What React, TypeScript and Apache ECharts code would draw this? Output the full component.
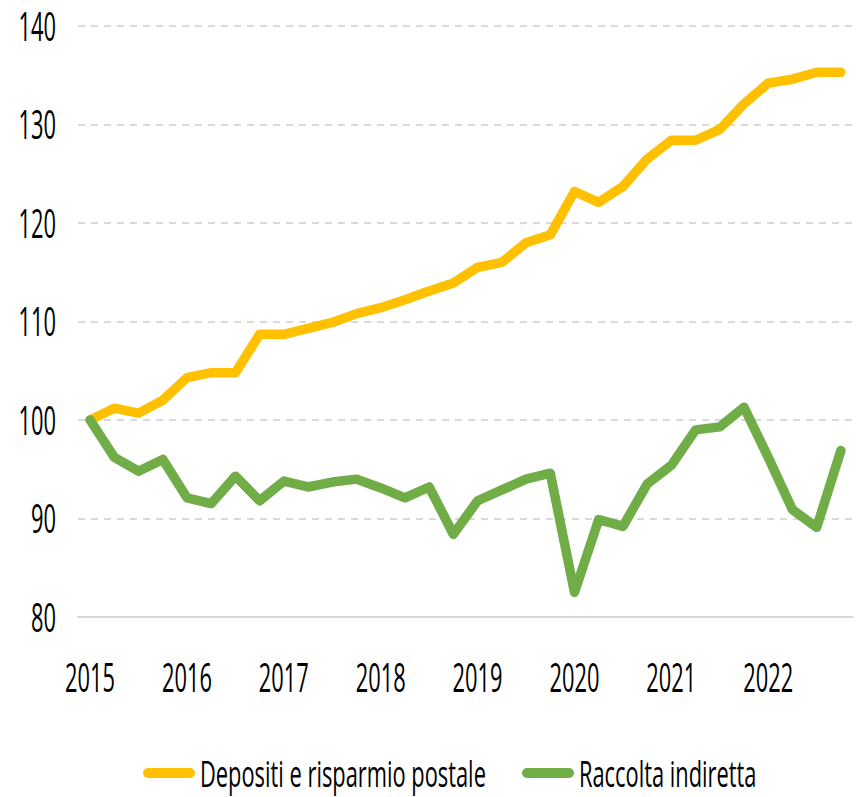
import React, { useEffect, useRef } from "react";
import * as echarts from "echarts";

const quarters: string[] = [
  "2015-Q1", "2015-Q2", "2015-Q3", "2015-Q4",
  "2016-Q1", "2016-Q2", "2016-Q3", "2016-Q4",
  "2017-Q1", "2017-Q2", "2017-Q3", "2017-Q4",
  "2018-Q1", "2018-Q2", "2018-Q3", "2018-Q4",
  "2019-Q1", "2019-Q2", "2019-Q3", "2019-Q4",
  "2020-Q1", "2020-Q2", "2020-Q3", "2020-Q4",
  "2021-Q1", "2021-Q2", "2021-Q3", "2021-Q4",
  "2022-Q1", "2022-Q2", "2022-Q3", "2022-Q4",
];

const depositi: number[] = [
  100.0, 101.2, 100.7, 102.0,
  104.3, 104.8, 104.8, 108.7,
  108.7, 109.3, 109.9, 110.8,
  111.4, 112.2, 113.1, 113.9,
  115.5, 116.0, 118.0, 118.8,
  123.2, 122.1, 123.7, 126.5,
  128.4, 128.4, 129.5, 132.1,
  134.2, 134.6, 135.3, 135.3,
];

const raccolta: number[] = [
  100.0, 96.2, 94.8, 96.0,
  92.1, 91.5, 94.3, 91.8,
  93.8, 93.2, 93.7, 94.0,
  93.1, 92.1, 93.2, 88.4,
  91.8, 92.9, 94.0, 94.6,
  82.5, 89.9, 89.2, 93.5,
  95.4, 99.0, 99.3, 101.3,
  96.2, 90.9, 89.1, 96.9,
];

const yTicks: number[] = [80, 90, 100, 110, 120, 130, 140];
const yearTicks: string[] = ["2015", "2016", "2017", "2018", "2019", "2020", "2021", "2022"];

const seriesNames: string[] = ["Depositi e risparmio postale", "Raccolta indiretta"];
const seriesColors: string[] = ["#FFC000", "#70AD47"];

const FAMILY = "'Open Sans', 'Liberation Sans', sans-serif";
const AXIS_FONT = `500 41px ${FAMILY}`;
const LEGEND_FONT = `500 36px ${FAMILY}`;

function measure(font: string, text: string): number {
  const c = document.createElement("canvas");
  const ctx = c.getContext("2d");
  if (!ctx) return text.length * 20;
  ctx.font = font;
  return ctx.measureText(text).width;
}

export default function App() {
  const ref = useRef<HTMLDivElement>(null);

  useEffect(() => {
    if (!ref.current) return;
    const chart = echarts.init(ref.current, undefined, { renderer: "svg" });
    chart.setOption({
      animation: false,
      backgroundColor: "#ffffff",
      grid: { left: 78, right: 3, top: 26, bottom: 180, containLabel: false },
      xAxis: {
        type: "category",
        data: quarters,
        boundaryGap: true,
        axisLine: { show: true, lineStyle: { color: "#d9d9d9", width: 2 } },
        axisTick: { show: false },
        axisLabel: { show: false },
        splitLine: { show: false },
      },
      yAxis: {
        type: "value",
        min: yTicks[0],
        max: yTicks[yTicks.length - 1],
        interval: 10,
        axisLine: { show: false },
        axisTick: { show: false },
        axisLabel: { show: false },
        splitLine: { show: true, lineStyle: { color: "#d9d9d9", width: 2, type: [7, 6] } },
      },
      series: [
        {
          name: seriesNames[0],
          type: "line",
          data: depositi,
          showSymbol: false,
          symbol: "none",
          lineStyle: { color: seriesColors[0], width: 9.5, cap: "round", join: "round" },
          itemStyle: { color: seriesColors[0] },
        },
        {
          name: seriesNames[1],
          type: "line",
          data: raccolta,
          showSymbol: false,
          symbol: "none",
          lineStyle: { color: seriesColors[1], width: 9.5, cap: "round", join: "round" },
          itemStyle: { color: seriesColors[1] },
        },
      ],
    });

    // Condensed text (the reference uses a horizontally squeezed font)
    const axisScale = 50 / measure(AXIS_FONT, "2015");
    const legendScale = 286 / measure(LEGEND_FONT, seriesNames[0]);

    const graphics: any[] = [];
    yTicks.forEach((v) => {
      const py = chart.convertToPixel({ yAxisIndex: 0 }, v) as number;
      graphics.push({
        type: "text",
        x: 56,
        y: py - 1,
        scaleX: axisScale,
        silent: true,
        style: {
          text: String(v),
          font: AXIS_FONT,
          fill: "#000000",
          align: "right",
          textAlign: "right",
          verticalAlign: "middle",
          textVerticalAlign: "middle",
        },
      });
    });
    const axisY = chart.convertToPixel({ yAxisIndex: 0 }, yTicks[0]) as number;
    yearTicks.forEach((yr) => {
      const idx = quarters.indexOf(yr + "-Q1");
      const px = chart.convertToPixel({ xAxisIndex: 0 }, idx) as number;
      graphics.push({
        type: "text",
        x: px,
        y: axisY + 59,
        scaleX: axisScale,
        silent: true,
        style: {
          text: yr,
          font: AXIS_FONT,
          fill: "#000000",
          align: "center",
          textAlign: "center",
          verticalAlign: "middle",
          textVerticalAlign: "middle",
        },
      });
    });

    // Legend
    const legendItems = [
      { iconX: 143, textX: 200 },
      { iconX: 522, textX: 579 },
    ];
    legendItems.forEach((it, i) => {
      graphics.push({
        type: "rect",
        silent: true,
        shape: { x: it.iconX, y: 768, width: 52, height: 10, r: 5 },
        style: { fill: seriesColors[i] },
      });
      graphics.push({
        type: "text",
        x: it.textX,
        y: 773,
        scaleX: legendScale,
        silent: true,
        style: {
          text: seriesNames[i],
          font: LEGEND_FONT,
          fill: "#000000",
          align: "left",
          textAlign: "left",
          verticalAlign: "middle",
          textVerticalAlign: "middle",
        },
      });
    });

    chart.setOption({ graphic: graphics });
    return () => chart.dispose();
  }, []);

  return (
    <div
      ref={ref}
      style={{ position: "absolute", left: 0, top: 0, width: 856, height: 797 }}
    />
  );
}
